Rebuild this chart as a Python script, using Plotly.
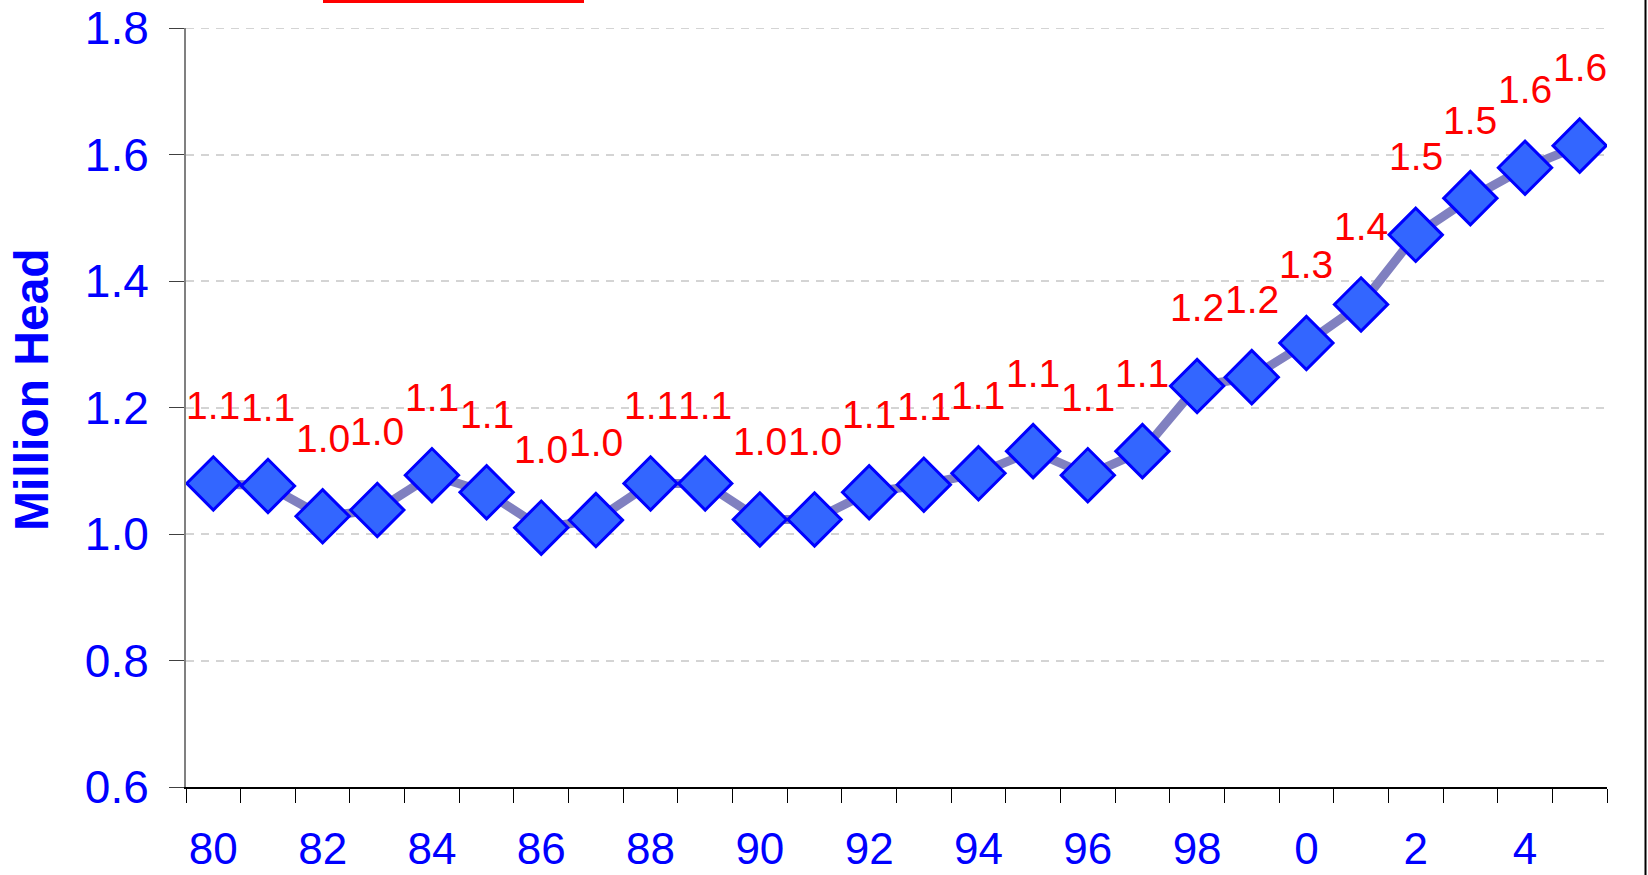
import plotly.graph_objects as go

years = ["80", "81", "82", "83", "84", "85", "86", "87", "88", "89",
         "90", "91", "92", "93", "94", "95", "96", "97", "98", "99",
         "0", "1", "2", "3", "4", "5"]
head = [1.080, 1.076, 1.028, 1.038, 1.093, 1.066, 1.010, 1.022, 1.080, 1.080,
        1.023, 1.023, 1.066, 1.078, 1.096, 1.131, 1.093, 1.131, 1.234, 1.248,
        1.302, 1.363, 1.473, 1.531, 1.579, 1.614]
y_ticks = [0.6, 0.8, 1.0, 1.2, 1.4, 1.6, 1.8]

FONT = "Arial, Liberation Sans, sans-serif"
idx = list(range(len(years)))

W, H = 1648, 875
L, R, T, B = 186, 1607, 28, 787
pw, ph = R - L, B - T
GRID = dict(color="#D4D4D4", width=2, dash="8px,7px")


def px_x(p):
    return (p - L) / pw


def px_y(p):
    return (B - p) / ph


fig = go.Figure()
fig.add_trace(go.Scatter(
    x=idx, y=head, mode="lines+markers",
    line=dict(color="#8080C0", width=9),
    marker=dict(symbol="diamond", size=41, color="#3366FF",
                line=dict(color="#0000FF", width=3)),
    hoverinfo="skip", showlegend=False,
))

annotations = []
for i, v in zip(idx, head):
    annotations.append(dict(
        x=i, y=v, xref="x", yref="y", text=f"{v:.1f}", showarrow=False,
        yshift=78, font=dict(family=FONT, size=39, color="#FF0000"),
    ))

annotations.append(dict(
    x=px_x(32), y=px_y(390), xref="paper", yref="paper", text="<b>Million Head</b>",
    textangle=-90, showarrow=False, xanchor="center", yanchor="middle",
    font=dict(family=FONT, size=48, color="#0000FF"),
))

shapes = [
    # top gridline (plotly omits the one on the plot edge)
    dict(type="line", xref="paper", yref="y", x0=0, x1=1,
         y0=y_ticks[-1], y1=y_ticks[-1], line=GRID, layer="below"),
    dict(type="rect", xref="paper", yref="paper",
         x0=px_x(323), x1=px_x(584), y0=px_y(3), y1=px_y(-4),
         fillcolor="#FF0000", line=dict(width=0), layer="above"),
    dict(type="line", xref="paper", yref="paper",
         x0=px_x(1645.5), x1=px_x(1645.5), y0=px_y(880), y1=px_y(-4),
         line=dict(color="#000000", width=2)),
]

fig.update_layout(
    width=W, height=H, template="plotly_white",
    margin=dict(l=L, r=W - R, t=T, b=H - B, pad=0, autoexpand=False),
    paper_bgcolor="white", plot_bgcolor="white",
    annotations=annotations, shapes=shapes,
    xaxis=dict(
        automargin=False,
        range=[-0.5, len(years) - 0.5],
        tickmode="array", tickvals=idx[::2], ticktext=years[::2],
        ticks="", showgrid=False, zeroline=False,
        showline=True, linecolor="#000000", linewidth=2,
        tickfont=dict(family=FONT, size=44, color="#0000FF"),
        ticklabelstandoff=22, ticklabeloverflow="allow",
        minor=dict(tickmode="array", tickvals=[i - 0.5 for i in range(len(years) + 1)],
                   ticks="outside", ticklen=14, tickcolor="#000000", tickwidth=1,
                   showgrid=False),
    ),
    yaxis=dict(
        automargin=False,
        range=[0.6, 1.8], tickmode="array", tickvals=y_ticks,
        ticktext=[f"{t:.1f}" for t in y_ticks],
        ticks="outside", ticklen=15, tickcolor="#404040", tickwidth=1,
        showline=True, linecolor="#808080", linewidth=2,
        showgrid=True, gridcolor=GRID["color"], gridwidth=GRID["width"],
        griddash=GRID["dash"],
        zeroline=False,
        tickfont=dict(family=FONT, size=46, color="#0000FF"),
        ticklabelstandoff=11, ticklabeloverflow="allow",
    ),
)

fig.write_html("out.html", config={"displayModeBar": False},
               post_script="document.body.style.margin='0';document.body.style.overflow='hidden';")
